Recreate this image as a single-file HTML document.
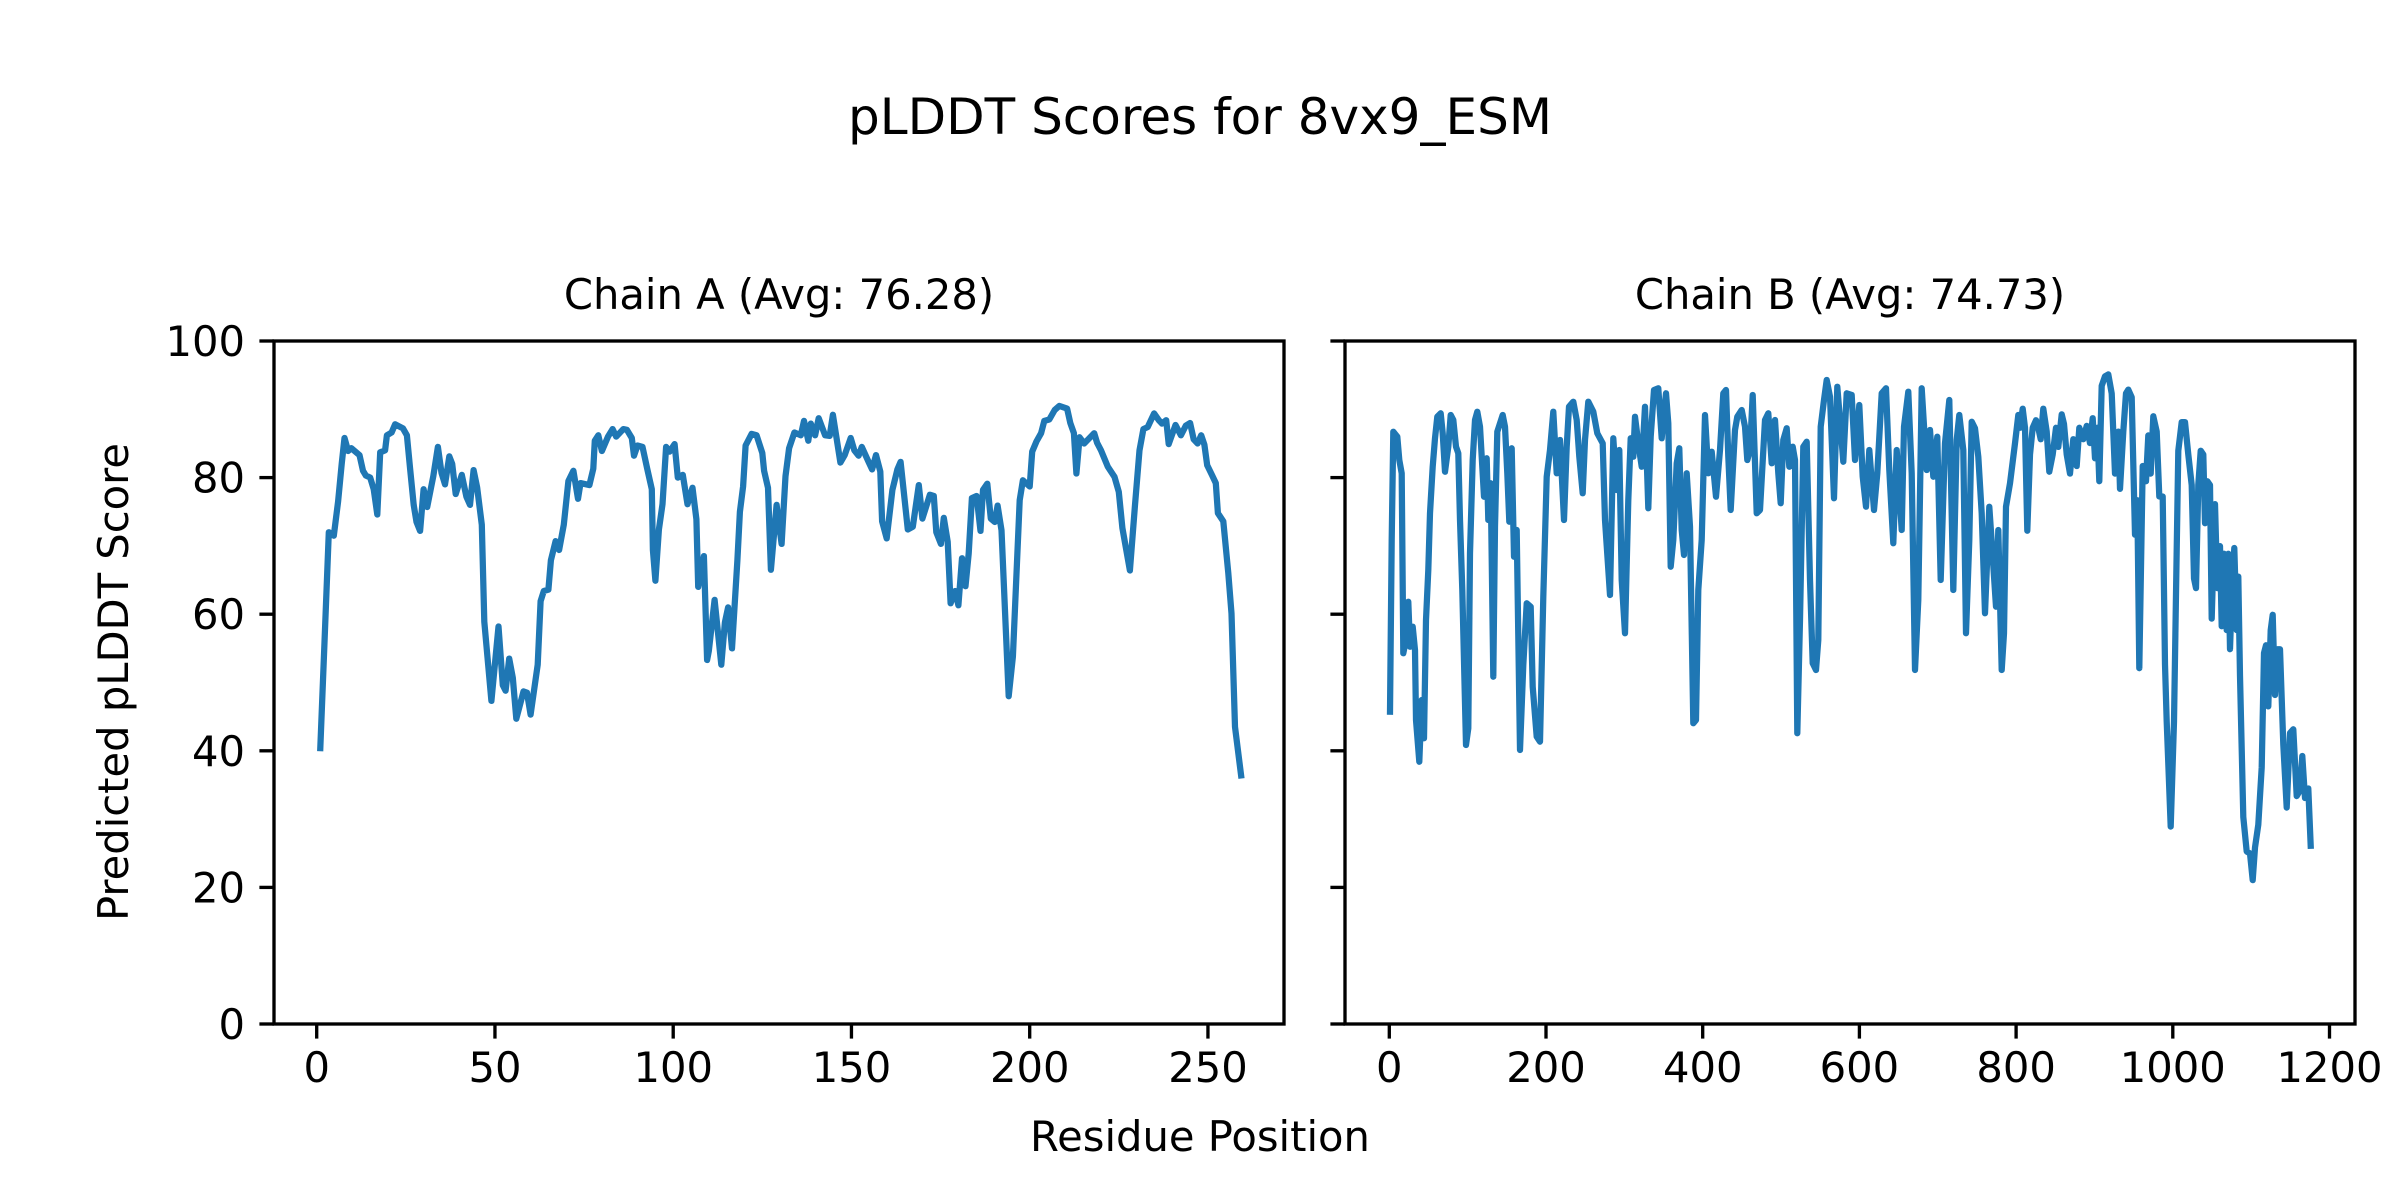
<!DOCTYPE html>
<html><head><meta charset="utf-8">
<style>
html,body{margin:0;padding:0;background:#fff;}
svg{display:block;}
text{font-family:"DejaVu Sans","Liberation Sans",sans-serif;fill:#000;}
</style></head>
<body>
<svg id="s" width="2400" height="1200" viewBox="0 0 2400 1200" xmlns="http://www.w3.org/2000/svg">
<rect width="2400" height="1200" fill="#fff"/>
<text x="1200" y="134" font-size="50" text-anchor="middle">pLDDT Scores for 8vx9_ESM</text>
<text x="779" y="309" font-size="41.67" text-anchor="middle">Chain A (Avg: 76.28)</text>
<text x="1850" y="309" font-size="41.67" text-anchor="middle">Chain B (Avg: 74.73)</text>
<text x="1200" y="1151" font-size="41.67" text-anchor="middle">Residue Position</text>
<text transform="translate(128,682) rotate(-90)" font-size="41.67" text-anchor="middle">Predicted pLDDT Score</text>
<g id="ticks" stroke="#000" stroke-width="3.33"></g>
<g id="labels" font-size="41.67"></g>
<polyline id="la" fill="none" stroke="#1f77b4" stroke-width="6.25" stroke-linejoin="round" stroke-linecap="square"/>
<polyline id="lb" fill="none" stroke="#1f77b4" stroke-width="6.25" stroke-linejoin="round" stroke-linecap="square"/>
<rect x="274" y="341" width="1010" height="683" fill="none" stroke="#000" stroke-width="3.33"/>
<rect x="1345" y="341" width="1010" height="683" fill="none" stroke="#000" stroke-width="3.33"/>
</svg>
<script>
var NS="http://www.w3.org/2000/svg";
var tg=document.getElementById("ticks"), lg=document.getElementById("labels");
function line(x1,y1,x2,y2){var l=document.createElementNS(NS,"line");l.setAttribute("x1",x1);l.setAttribute("y1",y1);l.setAttribute("x2",x2);l.setAttribute("y2",y2);tg.appendChild(l);}
function txt(x,y,s,anc){var t=document.createElementNS(NS,"text");t.setAttribute("x",x);t.setAttribute("y",y);t.setAttribute("text-anchor",anc);t.textContent=s;lg.appendChild(t);}
for(var v=0;v<=100;v+=20){var y=1024-v*6.83;line(259.4,y,274,y);line(1330.4,y,1345,y);txt(245,y+15,String(v),"end");}
for(var k=0;k<=250;k+=50){var x=316.7+k*3.565;line(x,1024,x,1038.6);txt(x,1082,String(k),"middle");}
for(var k=0;k<=1200;k+=200){var x=1389.3+k*0.7835;line(x,1024,x,1038.6);txt(x,1082,String(k),"middle");}
var A=[1,40.4,2.2,55.9,3.4,72,4.8,71.5,6,76.5,7,82,7.8,85.8,8.8,83.9,9.7,84.3,12,83.3,13,81,13.8,80.3,15,80,16,78.3,17,74.6,17.8,83.7,19.2,84,19.7,86.2,21,86.6,22,87.8,24.2,87.2,25.3,86.2,26.2,81.3,27.2,76,28,73.5,29,72.2,30,78.3,31,75.7,32.7,80.2,34,84.5,35,80.7,36,79,37.2,83.1,38,82,39,77.6,40.7,80.4,42,77.2,43,76,44,81.1,45,78.6,46.3,73.1,47,58.9,49,47.3,51,58.2,52.2,49.6,53,48.8,54,53.5,55,50.7,56,44.7,58,48.7,59,48.5,60,45.3,62,52.6,62.8,61.9,63.7,63.4,65,63.6,65.7,67.9,67,70.7,68,69.4,69.3,73.1,70.6,79.5,72,81,73.3,76.9,74,79.2,76.5,78.9,77.6,81.3,78,85.4,79,86.2,80,83.9,81.7,86,83,87.1,84,86,86,87.1,87,87,88.4,85.8,89,83.2,90,84.7,91.4,84.5,92.7,81.3,94,78.3,94.3,69.4,95,64.9,96,72.4,97,76.1,98,84.5,99,83.8,100.4,84.9,101.3,80,102.7,80.4,104,76.1,105.4,78.5,106.5,73.9,107,64,108.6,68.5,109.5,53.3,110,54.6,111.6,62.1,113.5,52.6,114.5,58.8,115.4,61,116.5,55,118,67.9,118.7,75,119.6,78.7,120.3,84.7,122,86.4,123.4,86.2,125,83.6,125.5,81,126.6,78.5,127.4,66.5,129,76,130.4,70.3,131.5,80.2,132.5,84.3,134,86.6,
135.8,86.2,136.7,88.3,137.9,85.4,138.6,87.9,139.8,86.2,140.8,88.7,142.6,86.2,143.9,86.1,144.8,89.2,146.9,82.2,148.1,83.3,149.8,85.8,150.8,84,152,83.2,152.9,84.5,154.8,82.3,155.8,81.2,156.9,83.3,158.1,80.9,158.6,73.6,159.9,71.1,161.5,78.2,162.9,81.2,163.8,82.3,165.8,72.4,167.2,72.8,168.9,78.9,169.9,74,172,77.5,173.1,77.3,173.8,72,175.1,70.3,175.9,74.1,177,70.6,177.8,61.6,179.1,63.4,180,61.3,181,68.2,182,64.1,182.9,68.9,183.8,77,185.1,77.3,186.2,72.2,186.9,78.2,188.1,79.1,189.1,74,190.2,73.5,191,75.9,192.1,72.3,194.1,48,195.3,53.8,197.2,76.7,198.1,79.6,200,78.7,200.7,83.8,201.9,85.3,203.2,86.5,204.1,88.3,205.5,88.5,207,89.9,208.3,90.5,210.5,90.1,211.4,88,212.4,86.5,213.1,80.6,214,85.9,215.3,85,218.1,86.5,218.9,85.1,220,84,221.9,81.6,223.8,80.1,225,77.9,226,72.6,228.1,66.4,229.5,75.8,230.8,84,231.9,87.1,233.1,87.4,234.9,89.4,236.2,88.4,237.1,87.9,238.3,88.4,239,84.9,240.9,87.7,242.4,86.2,243.8,87.6,245,88,246,85.6,247.1,85,248.1,86.2,249,84.8,249.8,81.8,251.1,80.4,252.2,79.2,252.8,74.8,254.3,73.6,255.7,66,256.6,60.1,257.6,43.5,259.3,36.4];
var pa=[];for(var i=0;i<A.length;i+=2){pa.push((316.7+A[i]*3.565).toFixed(1)+","+(1024-A[i+1]*6.83).toFixed(1));}
document.getElementById("la").setAttribute("points",pa.join(" "));
var Z5=[30,1115,35,600,40,275,52,290,58,360,65,400,70,940,78,900,85,785,90,920,98,860,105,930,108,1140,118,1265,125,1080,132,1195,138,840,145,690,150,520,158,380,165,295,172,230,182,220,188,280,195,395,205,320,212,225,220,240,228,320,235,340,240,540,247,750,258,1215,265,1165,270,640,278,360,285,240,292,215,300,260,312,470,320,355,325,540,332,430,340,1010,345,560,352,275,360,250,368,225,375,260,382,400,388,545,395,325,402,650,410,570,420,1230,430,975,440,790,452,800,458,1040,470,1190,480,1205,490,770,500,410,510,330,520,215,530,400,540,300,552,540,560,320,567,200,580,185,590,240,598,350,608,460,615,300,625,185,640,215,652,280,668,310,675,540,690,765,700,295,710,450,718,330,725,720,735,880,745,480,752,295,760,350,765,230,775,310,785,380,795,200,805,505,812,290,822,150,835,145,845,295,858,160,865,250,872,680,880,600,890,370,898,325,905,570,912,645,920,400,930,560,940,1150,948,1140,955,750,965,600,975,225,985,400];
var Z6=[35,335,48,470,60,330,70,160,78,150,85,350,92,510,105,270,112,230,125,210,135,260,142,360,150,330,158,165,170,520,180,510,195,240,205,220,215,370,225,240,235,400,242,490,250,300,260,265,268,380,278,320,285,360,292,1180,300,840,310,320,320,305,330,720,338,970,348,990,355,900,362,260,372,180,380,120,390,170,402,475,412,140,420,240,430,365,440,160,455,165,465,360,478,195,488,410,498,500,508,330,522,510,532,400,545,160,558,145,568,390,580,610,590,330,605,570,612,260,625,155,635,400,645,990,655,780,665,145,680,390,690,270,700,410,712,290,722,720,735,310,748,180,760,750,770,300,778,225,790,330,798,880,808,600,815,245,825,265,835,350,845,520,855,820,868,500,878,650,888,800,895,570,905,990,912,880,918,500,930,430,945,310,955,225];
var Z7=[0,230,8,180,15,230,22,500,30,300,38,230,48,210,55,230,62,260,70,180,80,240,88,345,98,300,108,230,115,280,125,195,132,220,140,300,150,350,160,260,170,330,178,230,190,260,200,225,210,270,218,205,225,310,232,230,238,370,245,120,255,95,265,90,275,140,285,350,295,240,300,390,310,240,318,140,325,130,335,150,345,510,352,420,358,860,368,330,378,370,385,250,392,350,400,200,410,240,418,410,428,410,435,850,440,1000,452,1275,462,1000,470,550,475,290,485,215,495,215,505,300,515,380,522,625,528,650,535,380,542,290,550,300,555,480,562,370,570,380,575,730,585,430,592,650,600,540,605,750,612,560,620,760,625,560,630,810,637,630,643,545,650,760,655,620,660,880,670,1250,680,1340,690,1345,698,1415,705,1330,715,1270,725,1120,732,820,738,800,745,960,752,760,758,720,765,930,772,810,780,810,790,1060,800,1225,810,1030,820,1020,830,1195,840,1180,847,1090,855,1200,865,1175,872,1325];
var pb=[];
function add(Z,ox,sy){for(var i=0;i<Z.length;i+=2){pb.push((ox+Z[i]/3).toFixed(1)+","+(340+Z[i+1]/sy).toFixed(1));}}
add(Z5,1380,3);add(Z6,1700,3);add(Z7,2020,2.62);
document.getElementById("lb").setAttribute("points",pb.join(" "));
</script>
</body></html>
